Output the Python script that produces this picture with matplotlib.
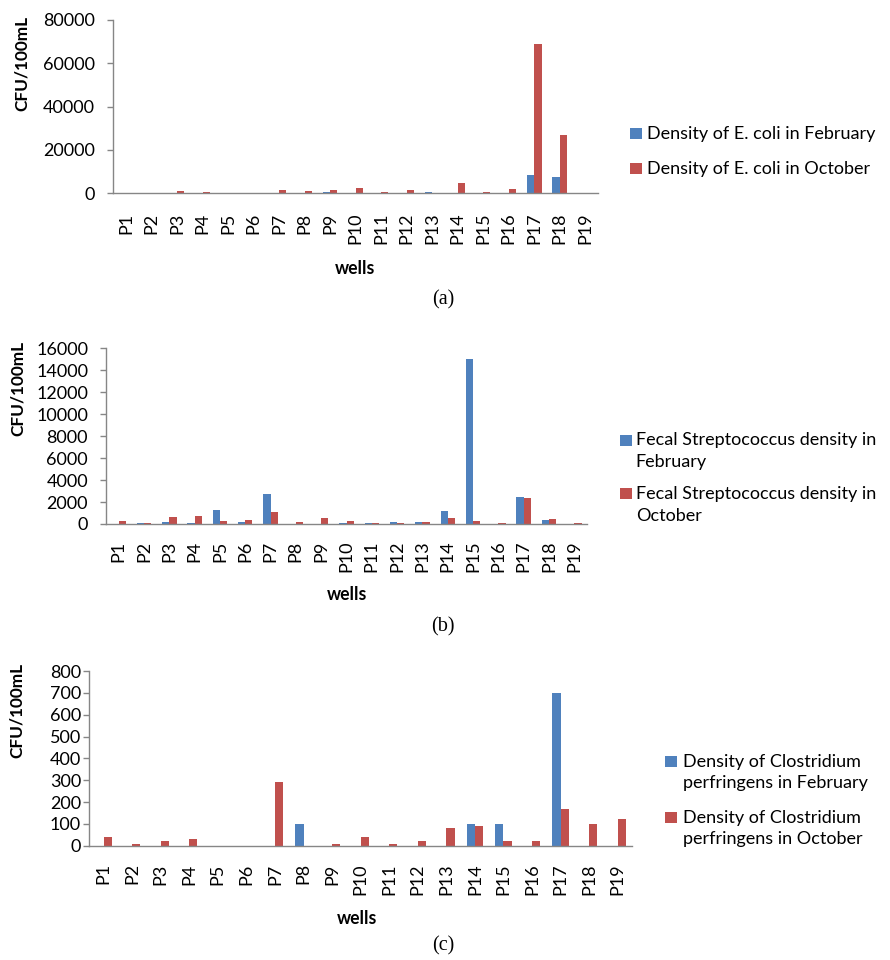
import numpy as np
import matplotlib
matplotlib.use('Agg')
import matplotlib.pyplot as plt
from matplotlib.patches import Rectangle

wells = ['P%d' % i for i in range(1, 20)]

# (a) E. coli
ecoli_feb = [0, 150, 0, 0, 0, 100, 200, 0, 450, 300, 0, 250, 800, 150, 150, 0, 8400, 7400, 0]
ecoli_oct = [0, 100, 1000, 800, 0, 300, 1500, 1200, 1500, 2500, 800, 1700, 200, 4600, 500, 1800, 69000, 27000, 300]

# (b) fecal streptococcus
strep_feb = [0, 80, 200, 50, 1300, 200, 2700, 0, 0, 80, 50, 180, 180, 1200, 15000, 30, 2500, 350, 0]
strep_oct = [250, 60, 600, 700, 300, 400, 1050, 170, 550, 250, 120, 80, 150, 550, 250, 50, 2400, 480, 100]

# (c) clostridium perfringens
clos_feb = [0, 0, 0, 0, 0, 0, 0, 100, 0, 0, 0, 0, 0, 100, 100, 0, 700, 0, 0]
clos_oct = [40, 10, 20, 30, 0, 0, 290, 0, 10, 40, 10, 20, 80, 90, 20, 20, 170, 100, 120]

BLUE = '#4F81BD'
RED = '#C0504D'
GRAY = '#868686'
FONT = 'Lato'
FS = 13

W, H = 890, 960
fig = plt.figure(figsize=(W / 100, H / 100), dpi=100)
plt.rcParams['font.family'] = FONT


def fx(px):
    return px / W


def fy(py):
    return 1 - py / H


def panel(left, right, top, bottom, feb, octo, ymax, ystep, ypad, xpad):
    ax = fig.add_axes([fx(left), fy(bottom), fx(right - left), (bottom - top) / H])
    x = np.arange(len(wells))
    w = 0.286
    ax.bar(x - w / 2, feb, w, color=BLUE, linewidth=0)
    ax.bar(x + w / 2, octo, w, color=RED, linewidth=0)
    ax.set_xlim(-0.5, len(wells) - 0.5)
    ax.set_ylim(0, ymax)
    ax.set_yticks(np.arange(0, ymax + 1, ystep))
    ax.set_xticks(x)
    ax.set_xticklabels(wells, rotation=90, fontsize=FS, family=FONT)
    for lab in ax.get_yticklabels():
        lab.set_fontsize(FS)
    for s in ['top', 'right']:
        ax.spines[s].set_visible(False)
    for s in ['left', 'bottom']:
        ax.spines[s].set_color(GRAY)
        ax.spines[s].set_linewidth(1)
    ax.tick_params(axis='y', length=4.3, width=1, color=GRAY, pad=ypad, labelcolor='black')
    ax.tick_params(axis='x', length=0, pad=xpad, labelcolor='black')
    return ax


def legend(x, rows, colors, labels, text_x, line_h=21.8):
    for y, c, lab in zip(rows, colors, labels):
        fig.add_artist(Rectangle((fx(x), fy(y + 5.5)), 11.5 / W, 11 / H,
                                 transform=fig.transFigure, color=c, lw=0))
        for k, line in enumerate(lab.split('\n')):
            fig.text(fx(text_x), fy(y + k * line_h), line, fontsize=FS,
                     va='center', ha='left', family=FONT)


def labels(ylab_x, ylab_y, wells_x, wells_y, tag, tag_y):
    fig.text(fx(ylab_x), fy(ylab_y), 'CFU/100mL', rotation=90, fontsize=FS - 0.6,
             fontweight='bold', ha='center', va='center', family=FONT)
    fig.text(fx(wells_x), fy(wells_y), 'wells', fontsize=FS - 0.3,
             fontweight='bold', ha='center', va='center', family=FONT)
    fig.text(fx(443), fy(tag_y), tag, fontsize=14.5, ha='center', va='center',
             family='Liberation Serif')


panel(113.3, 598, 20, 193.3, ecoli_feb, ecoli_oct, 80000, 20000, 9, 14)
labels(22, 63, 355, 268, '(a)', 300)
legend(630, [133.7, 168.7], [BLUE, RED],
       ['Density of E. coli in February', 'Density of E. coli in October'], 647)

panel(106, 587, 348.3, 524, strep_feb, strep_oct, 16000, 2000, 8.6, 12)
labels(18, 388, 347, 595, '(b)', 627)
legend(620, [440, 494], [BLUE, RED],
       ['Fecal Streptococcus density in\nFebruary', 'Fecal Streptococcus density in\nOctober'], 635.7)

panel(89.3, 632, 671, 845.7, clos_feb, clos_oct, 800, 100, 1.7, 12.7)
labels(16.5, 710, 357, 918, '(c)', 946)
legend(665, [761.5, 817.5], [BLUE, RED],
       ['Density of Clostridium\nperfringens in February', 'Density of Clostridium\nperfringens in October'], 682.7)

fig.savefig('out.png', dpi=100)
